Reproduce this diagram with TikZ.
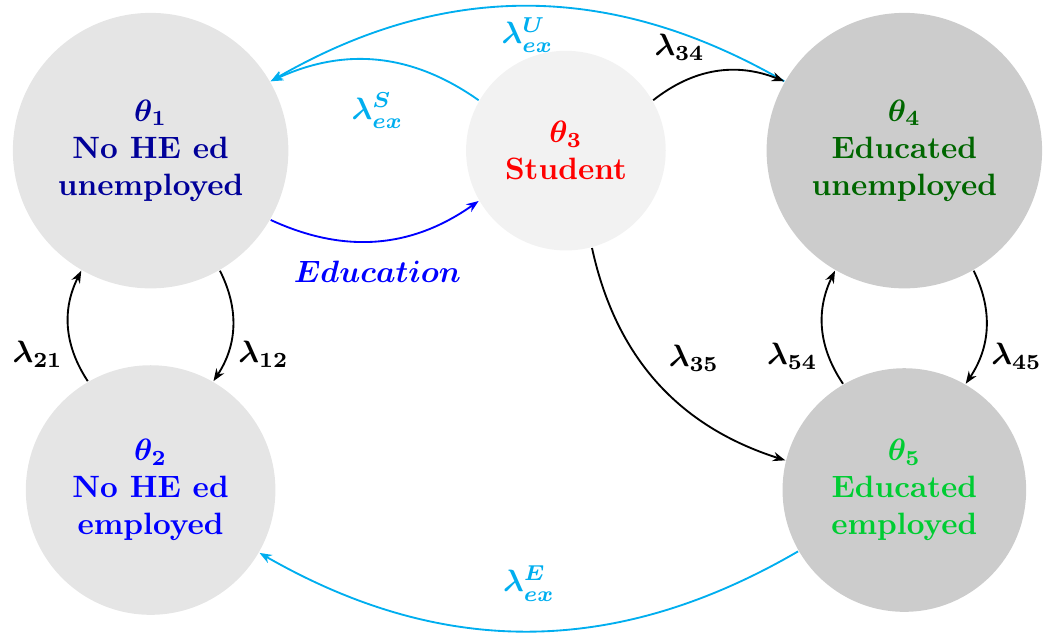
\documentclass[tikz,border=0pt]{standalone}
\usepackage{amsmath}
\usetikzlibrary{arrows.meta}
\definecolor{exblue}{RGB}{0,174,239}
\definecolor{edgreen}{RGB}{0,204,51}
\begin{document}
\begin{tikzpicture}[st/.style={circle,inner sep=1pt,align=center,font=\bfseries},>={Stealth[length=4pt]},semithick]
			\matrix(m)[row sep=0.875cm,column sep=1.148cm,inner sep=0pt] {
				\node(t1)[st,minimum size=3.136cm,fill=gray!20,text=blue!60!black] {$\boldsymbol{\theta_1}$\\No HE ed\\unemployed};&[0.875cm]
				\node(t3)[st,minimum size=2.273cm,fill=gray!10,text=red] {$\boldsymbol{\theta_3}$\\Student};&
				\node(t4)[st,minimum size=3.136cm,fill=gray!40,text=green!40!black] {$\boldsymbol{\theta_4}$\\Educated\\unemployed};
				\\
				\node(t2)[st,minimum size=2.841cm,fill=gray!20,text=blue] {$\boldsymbol{\theta_2}$\\No HE ed\\employed};& &
				\node(t5)[st,minimum size=2.773cm,fill=gray!40,text=edgreen] {$\boldsymbol{\theta_5}$\\Educated\\employed};
				\\ };
				\useasboundingbox ([shift={(-0.136cm,0.136cm)}]m.north west) rectangle ([shift={(0.045cm,-0.227cm)}]m.south east);
				\draw[->,blue] (t1.-30) to[bend right=30] node[below=3pt]{$\boldsymbol{Education}$} (t3.-150);
				\draw[->,exblue] (t3.150) to[bend right=30] node[below=7pt]{$\boldsymbol{\lambda^S_{ex}}$} (t1.30);
				\draw[->,exblue] (t4.150) to[bend right=30] node[below]{$\boldsymbol{\lambda^U_{ex}}$} (t1.30);
				\draw[->] (t3.30) to[bend left=30] node[above left]{$\boldsymbol{\lambda_{34}}$} (t4.150);
				\draw[->] (t3.-75) to[bend right=30] node[above right]{$\boldsymbol{\lambda_{35}}$} (t5.166);
				\draw[->] (t1.-60) to[bend left=30] node[pos=0.75,right]{$\boldsymbol{\lambda_{12}}$} (t2.60);
				\draw[->] (t2.120) to[bend left=30] node[pos=0.25,left]{$\boldsymbol{\lambda_{21}}$} (t1.-120);
				\draw[->] (t4.-60) to[bend left=30] node[pos=0.75,right]{$\boldsymbol{\lambda_{45}}$} (t5.60);
				\draw[->] (t5.120) to[bend left=30] node[pos=0.25,left]{$\boldsymbol{\lambda_{54}}$} (t4.-120);
				\draw[->,exblue] (t5.-150) to[bend left=30] node[above=6pt]{$\boldsymbol{\lambda^E_{ex}}$} (t2.-30);
	\end{tikzpicture}
\end{document}
